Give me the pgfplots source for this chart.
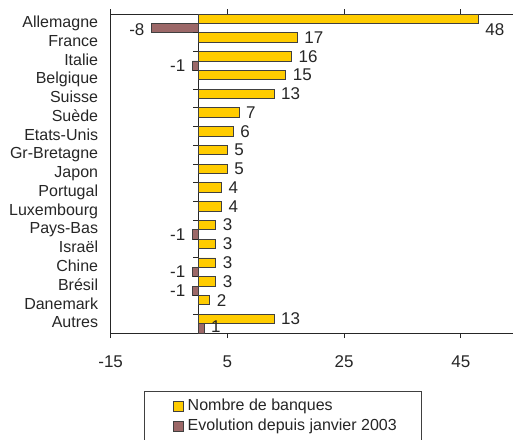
\documentclass[border=0pt]{standalone}
\usepackage{fontspec}
\setmainfont{Liberation Sans}
\usepackage{pgfplots}
\usepackage{pgfplotstable}
\pgfplotsset{compat=1.18}

\definecolor{barYellow}{HTML}{FFCC00}
\definecolor{barMauve}{HTML}{9C6868}
\definecolor{axisGray}{HTML}{262626}

% idx: position from the top; nb = nombre de banques; evo = evolution depuis 2003
% *dy = vertical offset of the value label (pt)
\pgfplotstableread{
idx nb  nbdy evo evody
0   48  -8.5 -8  -1.5
1   17  0    0   0
2   16  0    -1  0
3   15  0    0   0
4   13  0    0   0
5   7   0    0   0
6   6   0    0   0
7   5   0    0   0
8   5   0    0   0
9   4   0    0   0
10  4   0    0   0
11  3   0    -1  0
12  3   0    0   0
13  3   0    -1  0
14  3   0    -1  0
15  2   0    0   0
16  13  0    1   1.5
}\banques

\begin{document}
\fontsize{12}{14.4}\selectfont
\color{axisGray}
\begin{tikzpicture}
\useasboundingbox (0,0) rectangle (384.75pt,329.25pt);
\clip (0,0) rectangle (384.75pt,329.25pt);
\begin{axis}[
    at={(83pt,79.5pt)}, anchor=south west,
    scale only axis,
    width=306.4pt, height=239.25pt,
    xmin=-15, xmax=55,
    ymin=-0.5, ymax=16.5,
    y dir=reverse,
    xbar, bar width=0.5,
    /pgf/number format/assume math mode=true,
    xtick={-15,5,25,45},
    ytick={0,...,16},
    yticklabels={Allemagne,France,Italie,Belgique,Suisse,Suède,Etats-Unis,Gr-Bretagne,Japon,Portugal,Luxembourg,Pays-Bas,Israël,Chine,Brésil,Danemark,Autres},
    tick align=outside,
    major tick length=3.75pt,
    ytick style={draw=none},
    xtick style={axisGray, line width=0.75pt},
    axis line style={axisGray, line width=0.75pt},
    yticklabel style={inner xsep=5.5pt, text height=8.8pt, text depth=2.5pt},
    xticklabel style={font=\fontsize{12.75}{15}\selectfont, inner ysep=0pt, yshift=-13pt},
    extra x ticks={0},
    extra x tick labels={},
    extra x tick style={grid=major, major grid style={axisGray, line width=0.75pt}, tick style={draw=none}},
    legend image code/.code={
        \path (0pt,0pt);
        \draw[#1, line width=0.6pt] (3.4pt,-3.75pt) rectangle (10.9pt,3.75pt);
    },
    legend style={
        at={(0.0816,-0.1818)}, anchor=north west,
        draw=black!75, line width=0.6pt,
        inner xsep=18.4pt, inner ysep=6pt,
        column sep=2.6pt, row sep=4.5pt,
        cells={anchor=west},
        nodes={inner sep=0pt},
    },
]
\addplot[draw=black!75, fill=barYellow, line width=0.6pt, bar shift=-0.25,
    point meta=x,
    nodes near coords={\pgfmathprintnumber{\pgfplotspointmeta}},
    visualization depends on={\thisrow{nbdy} \as \dy},
    every node near coord/.append style={font=\fontsize{12.75}{15}\selectfont, inner xsep=5pt, inner ysep=0pt, yshift=\dy pt, text=axisGray}]
    table[x=nb, y=idx] {\banques};
\addlegendentry{Nombre de banques}

\addplot[draw=black!75, fill=barMauve, line width=0.6pt, bar shift=0.25,
    x filter/.expression={x==0 ? nan : x},
    point meta=x,
    nodes near coords={\pgfmathprintnumber{\pgfplotspointmeta}},
    visualization depends on={\thisrow{evody} \as \dy},
    every node near coord/.append style={font=\fontsize{12.75}{15}\selectfont, inner xsep=5pt, inner ysep=0pt, yshift=\dy pt, text=axisGray}]
    table[x=evo, y=idx] {\banques};
\addlegendentry{Evolution depuis janvier 2003}

% small ticks on the zero line between categories
\pgfplotsinvokeforeach{0.5,1.5,...,15.5}{
    \draw[axisGray, line width=0.75pt] (axis cs:0,#1) -- ++(-3.75pt,0pt);
}
\end{axis}
\end{tikzpicture}
\end{document}
